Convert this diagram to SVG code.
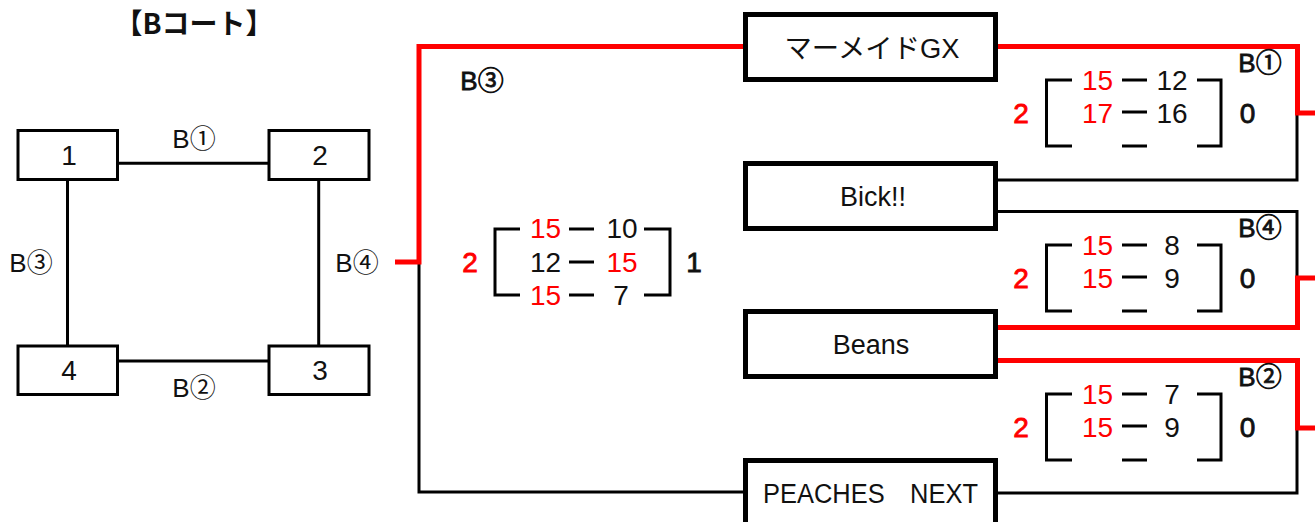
<svg xmlns="http://www.w3.org/2000/svg" width="1315" height="522" viewBox="0 0 1315 522">
<style>
.t{font-family:"Liberation Sans","Noto Sans CJK JP",sans-serif;fill:#111;text-anchor:middle}
.s{font-size:28px}
.lb{font-size:26px}
.b{stroke:#111;stroke-width:0.8px}
.r{fill:#ff0000}
.b.r{stroke:#ff0000}
.nm{font-size:27px}
.box{fill:#fff;stroke:#000;stroke-width:3}
.tbox{fill:#fff;stroke:#000;stroke-width:5}
.ln{fill:none;stroke:#000;stroke-width:3}
.red{fill:none;stroke:#ff0000;stroke-width:5}
.br{fill:none;stroke:#000;stroke-width:3}
</style>
<g id="title"><text class="t" x="194" y="34" style="font-size:28px;font-weight:bold;font-family:'Noto Sans CJK JP',sans-serif">【Bコート】</text></g>
<g id="court-connectors">
<path class="ln" d="M118,163.3 H269 M67.5,180 V346 M318.7,180 V346 M118,361 H269"/>
<text class="t lb" x="194" y="148">B①</text>
<text class="t lb" x="31" y="272">B③</text>
<text class="t lb" x="357" y="272">B④</text>
<text class="t lb" x="194" y="397">B②</text>
</g>
<g id="court1"><rect class="box" x="18" y="130.5" width="99.5" height="49"/><text class="t s" x="69" y="165">1</text></g>
<g id="court2"><rect class="box" x="269" y="130.5" width="100" height="49"/><text class="t s" x="320" y="165">2</text></g>
<g id="court4"><rect class="box" x="18" y="346" width="99.5" height="48.5"/><text class="t s" x="69" y="380">4</text></g>
<g id="court3"><rect class="box" x="269" y="346" width="100" height="48.5"/><text class="t s" x="320" y="380">3</text></g>
<g id="connectors">
<path class="ln" d="M419,262 V492 H745.5"/>
<path class="ln" d="M998,180 H1297 V113"/>
<path class="ln" d="M998,211.5 H1297 V278"/>
<path class="ln" d="M998,493 H1297 V428"/>
<path class="red" d="M745.5,46.5 H419 V262 H395"/>
<path class="red" d="M998,46.5 H1297.5 V113 H1315"/>
<path class="red" d="M998,327.5 H1297.5 V278 H1315"/>
<path class="red" d="M998,360.5 H1297.5 V428 H1315"/>
</g>
<g id="team-mermaid"><rect class="tbox" x="745.5" y="14.5" width="250" height="65"/><text class="t nm" x="872" y="58" textLength="175" lengthAdjust="spacingAndGlyphs">マーメイドGX</text></g>
<g id="team-bick"><rect class="tbox" x="745.5" y="163.5" width="250" height="65"/><text class="t nm" x="873" y="206">Bick!!</text></g>
<g id="team-beans"><rect class="tbox" x="745.5" y="311.5" width="250" height="65"/><text class="t nm" x="871" y="354">Beans</text></g>
<g id="team-peaches"><rect class="tbox" x="745.5" y="460.5" width="250" height="65"/><text class="t nm" x="870.5" y="503" textLength="215" lengthAdjust="spacingAndGlyphs">PEACHES　NEXT</text></g>
<g id="score-b3">
<text class="t lb b" x="482" y="90">B③</text>
<path class="br" d="M520,229 H495 V295 H520 M644,229 H670 V295 H644 M569,229 H594 M569,262 H594 M569,295 H594"/>
<text class="t s b r" x="470" y="272">2</text>
<text class="t s b" x="694" y="272">1</text>
<text class="t s r" x="545.5" y="238">15</text><text class="t s" x="622" y="238">10</text>
<text class="t s" x="545.5" y="272">12</text><text class="t s r" x="622" y="272">15</text>
<text class="t s r" x="545.5" y="305">15</text><text class="t s" x="621" y="305">7</text>
</g>
<g id="score-b1">
<text class="t lb b" x="1260" y="72">B①</text>
<path class="br" d="M1072,80 H1046.5 V146 H1072 M1197,80 H1221 V146 H1197 M1122,80 H1147 M1122,112 H1147 M1122,146 H1147"/>
<text class="t s b r" x="1021" y="123">2</text>
<text class="t s b" x="1247.5" y="123">0</text>
<text class="t s r" x="1097.5" y="90">15</text><text class="t s" x="1172" y="90">12</text>
<text class="t s r" x="1097.5" y="123">17</text><text class="t s" x="1172" y="123">16</text>
</g>
<g id="score-b4">
<text class="t lb b" x="1260" y="237">B④</text>
<path class="br" d="M1072,245 H1046.5 V311 H1072 M1197,245 H1221 V311 H1197 M1122,245 H1147 M1122,277 H1147 M1122,311 H1147"/>
<text class="t s b r" x="1021" y="288">2</text>
<text class="t s b" x="1247.5" y="288">0</text>
<text class="t s r" x="1097.5" y="255">15</text><text class="t s" x="1172" y="255">8</text>
<text class="t s r" x="1097.5" y="288">15</text><text class="t s" x="1172" y="288">9</text>
</g>
<g id="score-b2">
<text class="t lb b" x="1260" y="386">B②</text>
<path class="br" d="M1072,394 H1046.5 V460 H1072 M1197,394 H1221 V460 H1197 M1122,394 H1147 M1122,426 H1147 M1122,460 H1147"/>
<text class="t s b r" x="1021" y="437">2</text>
<text class="t s b" x="1247.5" y="437">0</text>
<text class="t s r" x="1097.5" y="404">15</text><text class="t s" x="1172" y="404">7</text>
<text class="t s r" x="1097.5" y="437">15</text><text class="t s" x="1172" y="437">9</text>
</g>
</svg>
